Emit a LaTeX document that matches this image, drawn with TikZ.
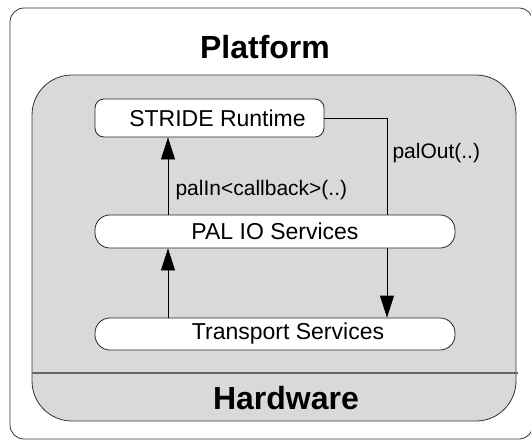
\documentclass[tikz,border=0pt]{standalone}
\usepackage{fontspec}
\setmainfont{Liberation Sans}
\usetikzlibrary{arrows.meta}
\definecolor{platgray}{RGB}{217,217,217}
\begin{document}
\begin{tikzpicture}[x=1pt,y=-1pt,
  box/.style={draw=black!85, fill=white, line width=0.8pt, rounded corners=9pt, inner sep=0pt, font=\fontsize{23}{27}\selectfont},
  bar/.style={box, rounded corners=15pt},
  lbl/.style={anchor=west, font=\fontsize{21}{25}\selectfont},
  ttl/.style={font=\fontsize{32}{38}\selectfont\bfseries},
  flow/.style={line width=0.8pt, -{Triangle[length=22pt,width=14pt]}}]

\useasboundingbox (0,0) rectangle (531,440);

% outer frame, cut by the page on the right
\begin{scope}
\clip (0,0) rectangle (531,440);
\draw[black!80, line width=0.8pt, rounded corners=14pt] (10,8) rectangle (533,439);
\end{scope}

\draw[black!80, fill=platgray, line width=0.8pt, rounded corners=40pt] (32,75) rectangle (516,421);
\draw[black!60, line width=1.2pt] (32,373) -- (518,373);

\node[ttl] (platform) at (265,47) {Platform};
\node[ttl] (hardware) at (286,398) {Hardware};

\node[box, minimum width=229pt, minimum height=38pt] (stride) at (209.5,118) {\hspace*{16pt}STRIDE Runtime};
\node[bar, minimum width=360pt, minimum height=33pt] (pal) at (275,231.5) {PAL IO Services};
\node[bar, minimum width=360pt, minimum height=32pt] (tsp) at (275,334) {\hspace*{26pt}Transport Services};

\coordinate (inx) at (168,0);
\coordinate (outx) at (387,0);

\draw[flow] (pal.north -| inx) -- (stride.south -| inx);
\draw[flow] (tsp.north -| inx) -- (pal.south -| inx);
\draw[line width=0.8pt] (stride.east) -| (pal.north -| outx);
\draw[flow] (pal.south -| outx) -- (tsp.north -| outx);

\node[lbl] (inlbl) at (172,190) {palIn<callback>(..)};
\node[lbl] (outlbl) at (389,153) {palOut(..)};

\end{tikzpicture}
\end{document}
